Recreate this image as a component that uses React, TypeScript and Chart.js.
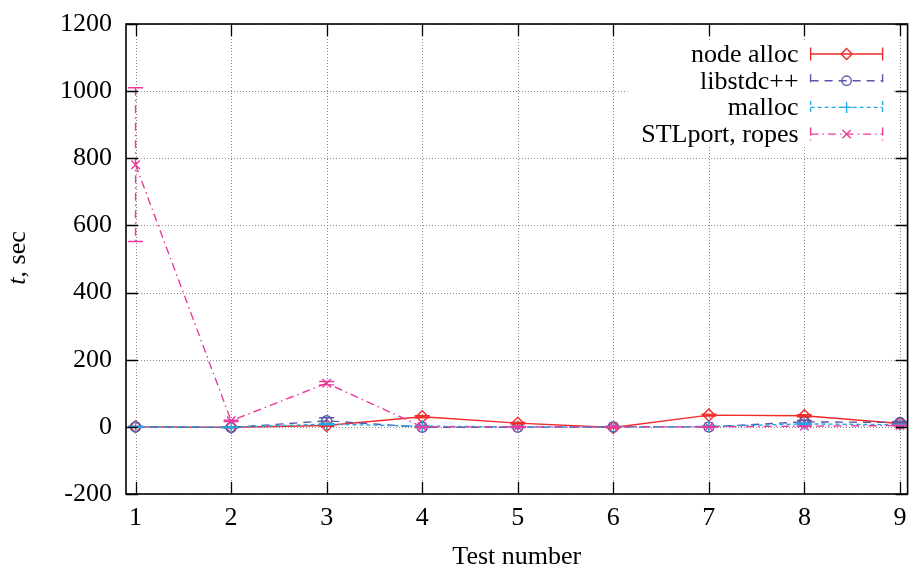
import React, { useEffect, useRef } from "react";
import { Chart, registerables } from "chart.js";

Chart.register(...registerables);

// Test numbers along the x axis
const testNumbers = [1, 2, 3, 4, 5, 6, 7, 8, 9];
const xTickValues = [1, 2, 3, 4, 5, 6, 7, 8, 9];
const yTickValues = [-200, 0, 200, 400, 600, 800, 1000, 1200];

// Run times (seconds) and symmetric error half-widths per allocator
const nodeAlloc = [0, -1, 4, 30, 11, -2, 35, 33, 10];
const nodeAllocErr = [1, 1, 2, 3, 2, 1, 3, 3, 2];

const libstdcpp = [0, -2, 18, -1, -1, 0, 0, 15, 13];
const libstdcppErr = [1, 1, 9, 1, 1, 1, 1, 4, 3];

const mallocTimes = [0, -1, 8, 2, 0, 0, 1, 9, 6];
const mallocErr = [1, 1, 2, 1, 1, 1, 1, 2, 2];

const stlportRopes = [781, 18, 130, 0, 0, 0, 0, 2, 4];
const stlportRopesErr = [229, 2, 5, 1, 1, 1, 1, 1, 1];

const seriesLabels = ["node alloc", "libstdc++", "malloc", "STLport, ropes"];

const FONT = "'Liberation Serif', 'Times New Roman', serif";

type Marker = "diamond" | "circle" | "plus" | "cross";

const seriesStyle = [
  { color: "#f22a2a", dash: [] as number[], marker: "diamond" as Marker },
  { color: "#5656aa", dash: [8, 6], marker: "circle" as Marker },
  { color: "#22a8e6", dash: [4, 3], marker: "plus" as Marker },
  { color: "#ec3a9c", dash: [8, 4, 1.5, 4], marker: "cross" as Marker },
];

const seriesValues = [nodeAlloc, libstdcpp, mallocTimes, stlportRopes];
const seriesErrors = [nodeAllocErr, libstdcppErr, mallocErr, stlportRopesErr];

function drawMarker(ctx: CanvasRenderingContext2D, kind: Marker, x: number, y: number, r: number) {
  ctx.beginPath();
  if (kind === "diamond") {
    ctx.moveTo(x, y - r);
    ctx.lineTo(x + r, y);
    ctx.lineTo(x, y + r);
    ctx.lineTo(x - r, y);
    ctx.closePath();
  } else if (kind === "circle") {
    ctx.arc(x, y, r * 0.85, 0, Math.PI * 2);
  } else if (kind === "plus") {
    ctx.moveTo(x - r, y);
    ctx.lineTo(x + r, y);
    ctx.moveTo(x, y - r);
    ctx.lineTo(x, y + r);
  } else {
    const d = r * 0.75;
    ctx.moveTo(x - d, y - d);
    ctx.lineTo(x + d, y + d);
    ctx.moveTo(x - d, y + d);
    ctx.lineTo(x + d, y - d);
  }
  ctx.stroke();
}

// Dotted grid behind the data
const gridPlugin = {
  id: "dottedGrid",
  beforeDatasetsDraw(chart: any) {
    const { ctx, chartArea: a, scales } = chart;
    ctx.save();
    ctx.strokeStyle = "#8a8a8a";
    ctx.lineWidth = 1;
    ctx.setLineDash([1, 2]);
    for (const v of xTickValues) {
      const px = Math.round(scales.x.getPixelForValue(v)) + 0.5;
      ctx.beginPath();
      ctx.moveTo(px, a.top);
      ctx.lineTo(px, a.bottom);
      ctx.stroke();
    }
    for (const v of yTickValues) {
      const py = Math.round(scales.y.getPixelForValue(v)) + 0.5;
      ctx.beginPath();
      ctx.moveTo(a.left, py);
      ctx.lineTo(a.right, py);
      ctx.stroke();
    }
    ctx.restore();
  },
};

// Error bars: dashed stems in each series' style, solid end caps
const errorBarPlugin = {
  id: "errorBars",
  afterDatasetsDraw(chart: any) {
    const { ctx, scales } = chart;
    ctx.save();
    ctx.lineWidth = 1.4;
    seriesValues.forEach((vals, si) => {
      const st = seriesStyle[si];
      ctx.strokeStyle = st.color;
      vals.forEach((v, i) => {
        const e = seriesErrors[si][i];
        const px = scales.x.getPixelForValue(testNumbers[i]);
        const pTop = scales.y.getPixelForValue(v + e);
        const pBot = scales.y.getPixelForValue(v - e);
        ctx.setLineDash(st.dash);
        ctx.beginPath();
        ctx.moveTo(px, pTop);
        ctx.lineTo(px, pBot);
        ctx.stroke();
        ctx.setLineDash([]);
        ctx.beginPath();
        ctx.moveTo(px - 7.5, pTop);
        ctx.lineTo(px + 7.5, pTop);
        ctx.moveTo(px - 7.5, pBot);
        ctx.lineTo(px + 7.5, pBot);
        ctx.stroke();
      });
    });
    ctx.restore();
  },
};

// Key, frame, inward tick marks and the y-axis title
const decorPlugin = {
  id: "decor",
  afterDraw(chart: any) {
    const { ctx, chartArea: a, scales } = chart;
    ctx.save();

    // key with an opaque background
    ctx.fillStyle = "#ffffff";
    ctx.fillRect(a.right - 280, a.top + 16, 265, 107);
    const textRight = a.right - 109;
    const x0 = a.right - 97;
    const x1 = a.right - 25;
    const xm = (x0 + x1) / 2;
    seriesLabels.forEach((label, i) => {
      const y = a.top + 30 + i * 26.7;
      const st = seriesStyle[i];
      ctx.setLineDash([]);
      ctx.fillStyle = "#000";
      ctx.font = `26px ${FONT}`;
      ctx.textAlign = "right";
      ctx.textBaseline = "middle";
      ctx.fillText(label, textRight, y + 1);
      ctx.strokeStyle = st.color;
      ctx.lineWidth = 1.4;
      ctx.setLineDash(st.dash);
      ctx.beginPath();
      ctx.moveTo(x0, y);
      ctx.lineTo(x1, y);
      ctx.moveTo(x0, y - 6.5);
      ctx.lineTo(x0, y + 6.5);
      ctx.moveTo(x1, y - 6.5);
      ctx.lineTo(x1, y + 6.5);
      ctx.stroke();
      ctx.setLineDash([]);
      drawMarker(ctx, st.marker, xm, y, 5.5);
    });

    // frame
    ctx.setLineDash([]);
    ctx.strokeStyle = "#000";
    ctx.lineWidth = 1.6;
    ctx.strokeRect(a.left, a.top, a.right - a.left, a.bottom - a.top);

    // inward ticks on all four sides
    const tl = 12;
    ctx.lineWidth = 1.3;
    ctx.beginPath();
    for (const v of xTickValues) {
      const px = Math.round(scales.x.getPixelForValue(v)) + 0.5;
      ctx.moveTo(px, a.bottom);
      ctx.lineTo(px, a.bottom - tl);
      ctx.moveTo(px, a.top);
      ctx.lineTo(px, a.top + tl);
    }
    for (const v of yTickValues) {
      const py = Math.round(scales.y.getPixelForValue(v)) + 0.5;
      ctx.moveTo(a.left, py);
      ctx.lineTo(a.left + tl, py);
      ctx.moveTo(a.right, py);
      ctx.lineTo(a.right - tl, py);
    }
    ctx.stroke();

    // y-axis title: italic "t" followed by ", sec"
    ctx.translate(18, 258);
    ctx.rotate(-Math.PI / 2);
    ctx.fillStyle = "#000";
    ctx.textBaseline = "middle";
    ctx.textAlign = "left";
    const italic = `italic 26px ${FONT}`;
    const upright = `26px ${FONT}`;
    ctx.font = italic;
    const wT = ctx.measureText("t").width;
    ctx.font = upright;
    const wRest = ctx.measureText(", sec").width;
    const start = -(wT + wRest) / 2;
    ctx.font = italic;
    ctx.fillText("t", start, 0);
    ctx.font = upright;
    ctx.fillText(", sec", start + wT, 0);

    ctx.restore();
  },
};

export default function App() {
  const canvasRef = useRef<HTMLCanvasElement | null>(null);

  useEffect(() => {
    if (!canvasRef.current) return;
    const datasets = seriesValues.map((vals, si) => {
      const st = seriesStyle[si];
      const pointStyle =
        st.marker === "diamond" ? "rectRot" : st.marker === "circle" ? "circle" : st.marker === "plus" ? "cross" : "crossRot";
      return {
        label: seriesLabels[si],
        data: vals.map((v, i) => ({ x: testNumbers[i], y: v })),
        borderColor: st.color,
        backgroundColor: "rgba(0,0,0,0)",
        borderWidth: 1.4,
        borderDash: st.dash,
        pointStyle,
        pointRadius: st.marker === "circle" ? 5 : 6,
        pointBorderWidth: 1.4,
        pointBorderColor: st.color,
        pointBackgroundColor: "rgba(0,0,0,0)",
        tension: 0,
        order: 3 - si,
      };
    });

    const chart = new Chart(canvasRef.current, {
      type: "line",
      data: { datasets },
      options: {
        responsive: false,
        animation: false,
        devicePixelRatio: 1,
        layout: { padding: { top: 24, right: 3, left: 0, bottom: 0 } },
        plugins: { legend: { display: false }, tooltip: { enabled: false } },
        scales: {
          x: {
            type: "linear",
            min: 0.9,
            max: 9.08,
            grid: { display: false },
            border: { display: false },
            afterBuildTicks: (s: any) => {
              s.ticks = xTickValues.map((v) => ({ value: v }));
            },
            afterFit: (s: any) => {
              s.height = 77;
            },
            ticks: {
              color: "#000",
              font: { family: FONT, size: 26 },
              padding: 1,
              maxRotation: 0,
              autoSkip: false,
              callback: (v: any) => String(v),
            },
            title: {
              display: true,
              text: "Test number",
              color: "#000",
              font: { family: FONT, size: 26, lineHeight: 1 },
              padding: { top: 0, bottom: 1 },
            },
          },
          y: {
            type: "linear",
            min: -200,
            max: 1200,
            grid: { display: false },
            border: { display: false },
            afterBuildTicks: (s: any) => {
              s.ticks = yTickValues.map((v) => ({ value: v }));
            },
            afterFit: (s: any) => {
              s.width = 126;
            },
            ticks: {
              color: "#000",
              font: { family: FONT, size: 26 },
              padding: 6,
              autoSkip: false,
              callback: (v: any) => String(v),
            },
          },
        },
      },
      plugins: [gridPlugin, errorBarPlugin, decorPlugin],
    });
    return () => chart.destroy();
  }, []);

  return (
    <div style={{ position: "fixed", left: 0, top: 0, width: 915, height: 571, background: "#fff" }}>
      <canvas ref={canvasRef} width={915} height={571} style={{ display: "block" }} />
    </div>
  );
}
